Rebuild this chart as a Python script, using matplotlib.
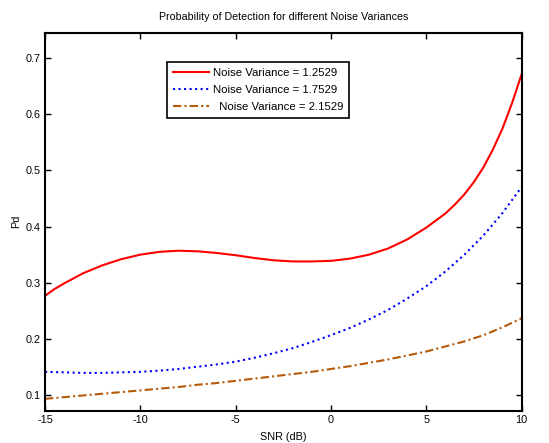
import matplotlib
matplotlib.use("Agg")
import matplotlib.pyplot as plt

plt.rcParams['font.family'] = ['Liberation Sans', 'DejaVu Sans']

snr_db = [-15, -14, -13, -12, -11, -10, -9, -8, -7, -6, -5, -4, -3, -2, -1,
          0, 1, 2, 3, 4, 5, 6, 7, 8, 9, 10]

# red curve read at a finer step where it bends strongly
snr_db_red = [-15, -14.5, -14, -13, -12, -11, -10, -9, -8, -7, -6, -5, -4, -3,
              -2, -1, 0, 1, 2, 3, 4, 5, 6, 6.5, 7, 7.5, 8, 8.5, 9, 9.5, 10]
pd_var_12529 = [0.277, 0.289, 0.299, 0.317, 0.331, 0.342, 0.350, 0.355, 0.357,
                0.356, 0.353, 0.349, 0.344, 0.340, 0.338, 0.338, 0.339, 0.343,
                0.350, 0.361, 0.377, 0.398, 0.423, 0.439, 0.457, 0.479, 0.505,
                0.537, 0.574, 0.619, 0.670]
pd_var_17529 = [0.142, 0.141, 0.140, 0.140, 0.141, 0.142, 0.144, 0.147, 0.151,
                0.155, 0.160, 0.167, 0.175, 0.184, 0.195, 0.207, 0.220, 0.235,
                0.252, 0.272, 0.294, 0.320, 0.350, 0.384, 0.424, 0.470]
pd_var_21529 = [0.094, 0.097, 0.100, 0.103, 0.106, 0.109, 0.112, 0.115, 0.119,
                0.122, 0.126, 0.130, 0.134, 0.138, 0.142, 0.147, 0.152, 0.158,
                0.164, 0.171, 0.178, 0.187, 0.196, 0.207, 0.221, 0.237]

labels = ["Noise Variance = 1.2529", "Noise Variance = 1.7529",
          "  Noise Variance = 2.1529"]
xticks = [-15, -10, -5, 0, 5, 10]
yticks = [0.1, 0.2, 0.3, 0.4, 0.5, 0.6, 0.7]

fig = plt.figure(figsize=(5.49, 4.43), dpi=100)
ax = fig.add_axes([0.082, 0.073, 0.868, 0.853])

ax.plot(snr_db_red, pd_var_12529, color='#ff0000', linestyle='-', linewidth=1.5, label=labels[0])
ax.plot(snr_db, pd_var_17529, color='#0000ff', linestyle=':', linewidth=1.5, label=labels[1])
ax.plot(snr_db, pd_var_21529, color='#b55a0a', linestyle='-.', linewidth=1.5,
        dashes=(4, 1.5, 1, 1.5), label=labels[2])

ax.set_xlim(-15, 10)
ax.set_ylim(0.073, 0.744)
ax.set_xticks(xticks)
ax.set_xticklabels([str(t) for t in xticks])
ax.set_yticks(yticks)
ax.set_yticklabels([f"{t:.1f}" for t in yticks])
ax.tick_params(direction='in', top=True, right=True, length=4, width=1,
               labelsize=7.8, pad=3)
for s in ax.spines.values():
    s.set_linewidth(1.5)

ax.set_title("Probability of Detection for different Noise Variances", fontsize=7.7, pad=9)
ax.set_xlabel("SNR (dB)", fontsize=7.8, labelpad=5)
ax.set_ylabel("Pd", fontsize=7.8, labelpad=3)

leg = ax.legend(loc='upper left', bbox_to_anchor=(167 / 549, 1 - 62 / 443),
                bbox_transform=fig.transFigure, fontsize=8.2, frameon=True,
                fancybox=False, framealpha=1, edgecolor='black',
                handlelength=3.2, handletextpad=0.3, borderpad=0.5,
                labelspacing=0.62, borderaxespad=0)
leg.get_frame().set_linewidth(1.2)

fig.savefig("out.png", dpi=100)
